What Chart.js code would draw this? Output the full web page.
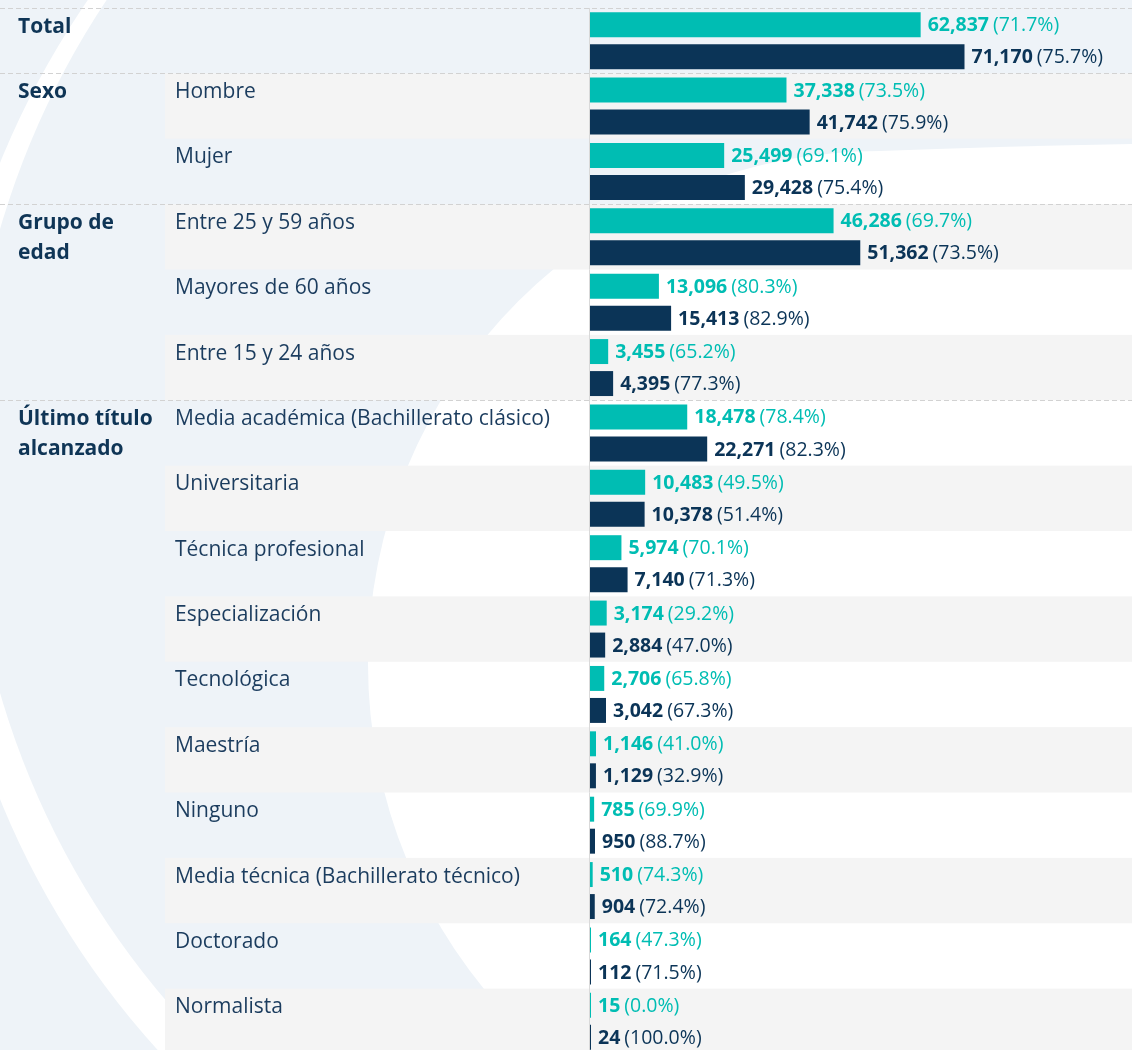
<!DOCTYPE html>
<html>
<head>
<meta charset="utf-8">
<script src="https://cdn.jsdelivr.net/npm/chart.js@4"></script>
<style>
  html, body { margin: 0; padding: 0; background: #ffffff; overflow: hidden; }
  #wrap { width: 1132px; height: 1050px; position: relative; overflow: hidden; }
</style>
</head>
<body>
<div id="wrap"><canvas id="c" width="1132" height="1054"></canvas></div>
<script>
// ---- data ----
const categories = [
  "Total", "Hombre", "Mujer",
  "Entre 25 y 59 años", "Mayores de 60 años", "Entre 15 y 24 años",
  "Media académica (Bachillerato clásico)", "Universitaria", "Técnica profesional",
  "Especialización", "Tecnológica", "Maestría", "Ninguno",
  "Media técnica (Bachillerato técnico)", "Doctorado", "Normalista"
];
const subLabels = [
  "", "Hombre", "Mujer",
  "Entre 25 y 59 años", "Mayores de 60 años", "Entre 15 y 24 años",
  "Media académica (Bachillerato clásico)", "Universitaria", "Técnica profesional",
  "Especialización", "Tecnológica", "Maestría", "Ninguno",
  "Media técnica (Bachillerato técnico)", "Doctorado", "Normalista"
];
const groupLabels = [["Total"], ["Sexo"], ["Grupo de", "edad"], ["Último título", "alcanzado"]];
const groupStart = [0, 1, 3, 6];

const seriesA = [62837, 37338, 25499, 46286, 13096, 3455, 18478, 10483, 5974, 3174, 2706, 1146, 785, 510, 164, 15];
const pctA    = [71.7, 73.5, 69.1, 69.7, 80.3, 65.2, 78.4, 49.5, 70.1, 29.2, 65.8, 41.0, 69.9, 74.3, 47.3, 0.0];
const seriesB = [71170, 41742, 29428, 51362, 15413, 4395, 22271, 10378, 7140, 2884, 3042, 1129, 950, 904, 112, 24];
const pctB    = [75.7, 75.9, 75.4, 73.5, 82.9, 77.3, 82.3, 51.4, 71.3, 47.0, 67.3, 32.9, 88.7, 72.4, 71.5, 100.0];

// ---- style ----
const TEAL = "#00BDB3";
const NAVY = "#0B3457";
const TXT_GROUP = "#0F3556";
const TXT_SUB = "#1B3C5E";
const BG_BLUE = "#EEF3F8";
const ROW_GRAY = "#F4F4F4";
const FONT = '"Open Sans", "Noto Sans", sans-serif';

const pcts = [pctA, pctB];
const colors = [TEAL, NAVY];

const backgroundPlugin = {
  id: "bgDecor",
  beforeDraw(chart) {
    const ctx = chart.ctx;
    const W = chart.width, H = chart.height;
    const yScale = chart.scales.y;
    const ca = chart.chartArea;
    ctx.save();
    // decorative background
    ctx.fillStyle = BG_BLUE;
    ctx.fillRect(0, 0, W, H);
    ctx.fillStyle = "#ffffff";
    ctx.beginPath(); ctx.arc(785, 481, 847, 0, Math.PI * 2); ctx.fill();
    ctx.fillStyle = BG_BLUE;
    ctx.beginPath(); ctx.arc(798, 461, 831, 0, Math.PI * 2); ctx.fill();
    ctx.fillStyle = "#ffffff";
    ctx.beginPath(); ctx.arc(881, 664, 513, 0, Math.PI * 2); ctx.fill();
    ctx.beginPath();
    ctx.moveTo(880, 151);
    ctx.quadraticCurveTo(1010, 146, W, 144);
    ctx.lineTo(W, 700); ctx.lineTo(880, 700); ctx.closePath(); ctx.fill();

    // row shading
    const n = categories.length;
    const band = (ca.bottom - ca.top) / n;
    for (let i = 0; i < n; i++) {
      const top = yScale.getPixelForValue(i) - band / 2;
      if (i % 2 === 1) {
        ctx.fillStyle = ROW_GRAY;
        ctx.fillRect(165, top, W - 165, band);
      }
    }
    // dashed group separators
    ctx.strokeStyle = "#D2D2D2";
    ctx.lineWidth = 1;
    ctx.setLineDash([5, 3]);
    groupStart.forEach(gi => {
      const top = Math.round(yScale.getPixelForValue(gi) - band / 2) + 0.5;
      ctx.beginPath(); ctx.moveTo(0, top); ctx.lineTo(W, top); ctx.stroke();
    });
    ctx.setLineDash([]);

    // axis line
    ctx.strokeStyle = "#D9D9D9";
    ctx.beginPath();
    ctx.moveTo(ca.left - 0.5, ca.top);
    ctx.lineTo(ca.left - 0.5, ca.bottom);
    ctx.stroke();

    // category labels
    const metaA = chart.getDatasetMeta(0);
    ctx.textBaseline = "middle";
    ctx.textAlign = "left";
    ctx.fillStyle = TXT_SUB;
    ctx.font = "21px " + FONT;
    for (let i = 0; i < n; i++) {
      const y = metaA.data[i].y + 2;
      if (subLabels[i]) ctx.fillText(subLabels[i], 175, y);
    }
    ctx.fillStyle = TXT_GROUP;
    ctx.font = "bold 21px " + FONT;
    groupStart.forEach((gi, k) => {
      const y = metaA.data[gi].y + 2;
      groupLabels[k].forEach((line, j) => ctx.fillText(line, 18, y + j * 30));
    });
    ctx.restore();
  }
};

const valueLabelPlugin = {
  id: "valueLabels",
  afterDatasetsDraw(chart) {
    const ctx = chart.ctx;
    ctx.save();
    ctx.textBaseline = "middle";
    ctx.textAlign = "left";
    chart.data.datasets.forEach((ds, d) => {
      const meta = chart.getDatasetMeta(d);
      meta.data.forEach((bar, i) => {
        const x = bar.x + 7;
        const y = bar.y + 1;
        ctx.fillStyle = colors[d];
        ctx.font = "bold 19.5px " + FONT;
        const t1 = ds.data[i].toLocaleString("en-US");
        ctx.fillText(t1, x, y);
        const w = ctx.measureText(t1).width;
        ctx.font = "19.5px " + FONT;
        ctx.fillText("(" + pcts[d][i].toFixed(1) + "%)", x + w + 4, y);
      });
    });
    ctx.restore();
  }
};

new Chart(document.getElementById("c"), {
  type: "bar",
  data: {
    labels: categories,
    datasets: [
      { label: "Serie 1", data: seriesA, backgroundColor: TEAL, borderWidth: 0, minBarLength: 1 },
      { label: "Serie 2", data: seriesB, backgroundColor: NAVY, borderWidth: 0, minBarLength: 1 }
    ]
  },
  options: {
    indexAxis: "y",
    responsive: false,
    animation: false,
    devicePixelRatio: 1,
    layout: { padding: { left: 590, top: 8, right: 0, bottom: 0 } },
    datasets: { bar: { categoryPercentage: 0.979, barPercentage: 0.78 } },
    scales: {
      x: { display: false, min: 0, max: 103000 },
      y: { display: false }
    },
    plugins: {
      legend: { display: false },
      tooltip: { enabled: false },
      title: { display: false }
    }
  },
  plugins: [backgroundPlugin, valueLabelPlugin]
});
</script>
</body>
</html>
